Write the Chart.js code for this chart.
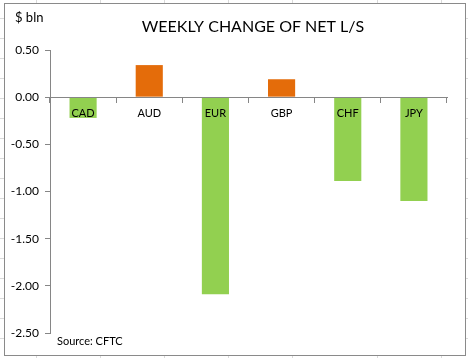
<!DOCTYPE html>
<html>
<head>
<meta charset="utf-8">
<script src="https://cdn.jsdelivr.net/npm/chart.js@4.4.1/dist/chart.umd.min.js"></script>
<style>
  html, body { margin: 0; padding: 0; }
  body {
    width: 468px; height: 358px; position: relative; overflow: hidden;
    background-color: #fff;
    background-image:
      linear-gradient(to bottom, #dadada 1px, transparent 1px);
    background-size: 100% 20px;
    background-position: 0 18px;
  }
  .vline { position: absolute; top: 0; width: 1px; height: 358px; background: #dadada; }
  #box {
    position: absolute; left: 4px; top: 3px; width: 460px; height: 351px;
    background: #fff; border: 1px solid #8a8a8a;
  }
  #chart { display: block; }
</style>
</head>
<body>
<div class="vline" style="left:36px"></div>
<div class="vline" style="left:100px"></div>
<div class="vline" style="left:164px"></div>
<div class="vline" style="left:228px"></div>
<div class="vline" style="left:292px"></div>
<div class="vline" style="left:377px"></div>
<div class="vline" style="left:441px"></div>
<div id="box"><canvas id="chart" width="460" height="351"></canvas></div>
<script>
var categories = ['CAD', 'AUD', 'EUR', 'GBP', 'CHF', 'JPY'];
var weeklyChange = [-0.22, 0.34, -2.09, 0.19, -0.89, -1.10];
var yTicks = [0.5, 0, -0.5, -1.0, -1.5, -2.0, -2.5];

var chartTitle = 'WEEKLY CHANGE OF NET L/S';
var unitLabel = '$ bln';
var sourceLabel = 'Source: CFTC';

var ORANGE = '#E46C0A';
var GREEN = '#92D050';
var AXIS = '#868686';
var FONT = 'Lato, "Open Sans", sans-serif';

// title, unit and source note drawn on the canvas
var textPlugin = {
    id: 'notes',
    afterDraw: function(chart) {
        var ctx = chart.ctx;
        ctx.save();
        ctx.fillStyle = '#000';
        ctx.textBaseline = 'middle';
        ctx.textAlign = 'center';
        ctx.font = '16px ' + FONT;
        ctx.fillText(chartTitle, 248, 23);
        ctx.textAlign = 'left';
        ctx.font = '13px ' + FONT;
        ctx.fillText(unitLabel, 10, 14);
        ctx.font = '11px ' + FONT;
        ctx.fillText(sourceLabel, 52, 337);
        ctx.restore();
    }
};

var ctx = document.getElementById('chart').getContext('2d');
new Chart(ctx, {
    type: 'bar',
    data: {
        labels: categories,
        datasets: [{
            data: weeklyChange,
            backgroundColor: weeklyChange.map(function(v) { return v >= 0 ? ORANGE : GREEN; }),
            borderWidth: 0,
            barPercentage: 0.41,
            categoryPercentage: 1.0
        }]
    },
    options: {
        responsive: false,
        animation: false,
        layout: { padding: { top: 46, right: 18, bottom: 22, left: 0 } },
        plugins: {
            legend: { display: false },
            tooltip: { enabled: false }
        },
        scales: {
            x: {
                position: { y: 0 },
                grid: {
                    z: 1,
                    offset: true,
                    drawOnChartArea: false,
                    drawTicks: true,
                    tickLength: 5,
                    color: AXIS
                },
                border: { display: true, color: AXIS, z: 1 },
                ticks: {
                    z: 1,
                    color: '#000',
                    padding: 5,
                    font: { family: FONT, size: 11 }
                }
            },
            y: {
                min: -2.5,
                max: 0.5,
                afterFit: function(scale) { scale.width = 45; },
                afterBuildTicks: function(scale) {
                    scale.ticks = yTicks.map(function(v) { return { value: v }; });
                },
                grid: {
                    drawOnChartArea: false,
                    drawTicks: true,
                    tickLength: 5,
                    color: AXIS
                },
                border: { display: true, color: AXIS },
                ticks: {
                    color: '#000',
                    padding: 6,
                    font: { family: FONT, size: 12 },
                    callback: function(v) { return Number(v).toFixed(2); }
                }
            }
        }
    },
    plugins: [textPlugin]
});
</script>
</body>
</html>
